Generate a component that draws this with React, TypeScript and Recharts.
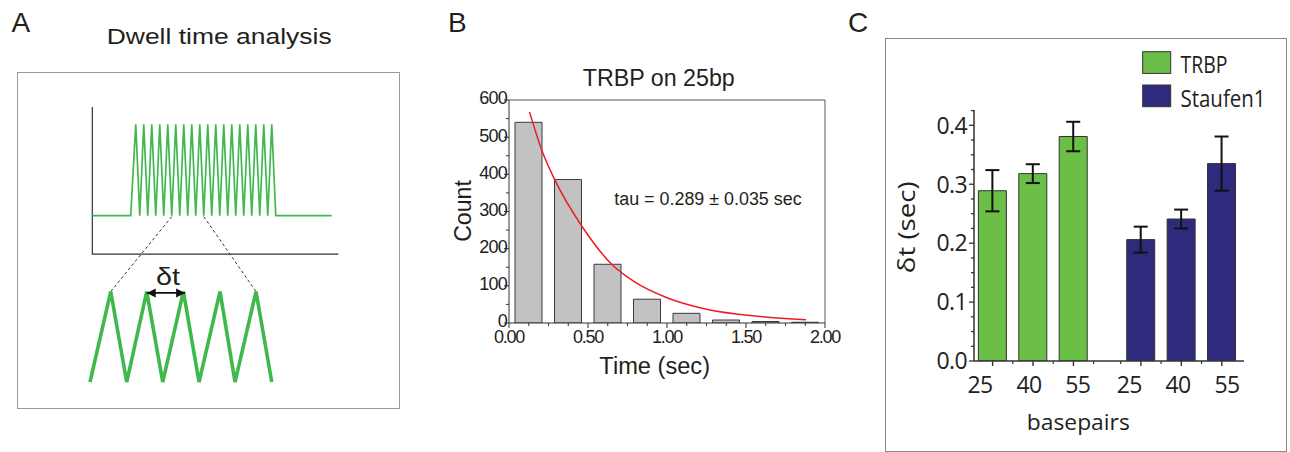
import { LineChart, Line, XAxis, YAxis, ComposedChart, Bar, BarChart, ErrorBar, Cell, ReferenceLine } from 'recharts'

// ---------- panel A: schematic trace (time in blink periods, level 0 = dark, 1 = bright)
const traceTimes = [
  0, 4.8, 5.43, 5.93, 6.43, 6.93, 7.43, 7.93, 8.43, 8.93, 9.43, 9.93, 10.43, 10.93, 11.43, 11.93, 12.43, 12.93,
  13.43, 13.93, 14.43, 14.93, 15.43, 15.93, 16.43, 16.93, 17.43, 17.93, 18.43, 18.93, 19.43, 19.93, 20.43, 20.93,
  21.43, 21.93, 22.43, 22.93, 29.93,
]
const traceLevels = [
  0, 0, 1, 0, 1, 0, 1, 0, 1, 0, 1, 0, 1, 0, 1, 0, 1, 0, 1, 0, 1, 0, 1, 0, 1, 0, 1, 0, 1, 0, 1, 0, 1, 0, 1, 0, 1, 0, 0,
]
const zoomTimes = [-0.29, 2.3, 4.3, 6.8, 8.8, 11.38, 13.34, 15.96, 17.84, 20.46, 22.43]
const zoomLevels = [-1.82, -0.83, -1.82, -0.83, -1.82, -0.83, -1.82, -0.83, -1.82, -0.83, -1.82]
const frameTimes = [0, 0, 30.75]
const frameLevels = [1.19, -0.42, -0.42]
const guideLeftTimes = [9.93, 2.3]
const guideRightTimes = [13.93, 20.46]
const guideLevels = [-0.01, -0.83]
const arrowTimes = [6.8, 11.6]
const arrowLevels = [-0.845, -0.845]

// ---------- panel B: dwell histogram
const binCenters = [0.125, 0.375, 0.625, 0.875, 1.125, 1.375, 1.625, 1.875]
const counts = [540, 386, 158, 64, 26, 8, 4, 2]
const fitTimes = [0.13, 0.21, 0.29, 0.47, 0.65, 0.79, 1.0, 1.25, 1.57, 1.88]
const fitCounts = [568, 462, 385, 255, 158, 112, 68, 37, 18, 9]
const xTicksB = [0, 0.125, 0.25, 0.375, 0.5, 0.625, 0.75, 0.875, 1, 1.125, 1.25, 1.375, 1.5, 1.625, 1.75, 1.875, 2]
const xLabelTicksB = [0, 0.5, 1, 1.5, 2]
const xLabelsB = ['0.00', '0.50', '1.00', '1.50', '2.00']
const yTicksB = [0, 50, 100, 150, 200, 250, 300, 350, 400, 450, 500, 550, 600]
const yLabelTicksB = [0, 100, 200, 300, 400, 500, 600]

// ---------- panel C: mean dwell per construct
const groups = ['TRBP', 'Staufen1']
const groupColors = ['#6bbf46', '#2e2b7d']
const barGroup = [0, 0, 0, 1, 1, 1]
const bpLabels = ['25', '40', '55', '25', '40', '55']
const dwell = [0.289, 0.318, 0.381, 0.206, 0.241, 0.335]
const dwellErr = [0.035, 0.016, 0.025, 0.022, 0.016, 0.046]
const barSlots = [0.46, 1.46, 2.46, 4.13, 5.13, 6.13]
const minorSlots = [0.96, 1.96, 2.96, 3.63, 4.63, 5.63]
const labelSlots = [0.15, 1.36, 2.57, 3.84, 5.05, 6.26]
const yTicksC = [0, 0.025, 0.05, 0.075, 0.1, 0.125, 0.15, 0.175, 0.2, 0.225, 0.25, 0.275, 0.3, 0.325, 0.35, 0.375, 0.4, 0.425]
const yLabelTicksC = [0, 0.1, 0.2, 0.3, 0.4]
const yLabelsC = ['0.0', '0.1', '0.2', '0.3', '0.4']

const arial = '"Liberation Sans", Arial, sans-serif'
const myriad = '"Open Sans", "Noto Sans", sans-serif'
const green = '#3fb84c'

const zip = (xs: number[], ys: number[]) => xs.map((x, i) => ({ x, y: ys[i] }))
const near = (list: number[], v: number) => list.findIndex((s) => Math.abs(s - v) < 1e-6)

const trace = zip(traceTimes, traceLevels)
const zoomed = zip(zoomTimes, zoomLevels)
const frame = zip(frameTimes, frameLevels)
const guideLeft = zip(guideLeftTimes, guideLevels)
const guideRight = zip(guideRightTimes, guideLevels)
const arrow = zip(arrowTimes, arrowLevels)

const bins = binCenters.map((t, i) => ({ t, count: counts[i] }))
const fit = fitTimes.map((t, i) => ({ t, fit: fitCounts[i] }))
const cData = barSlots.map((slot, i) => ({ slot, dt: dwell[i], err: dwellErr[i], group: barGroup[i] }))
const xTicksC = [...barSlots, ...minorSlots, ...labelSlots]

const ArrowHead = (p: any) => {
  const { cx, cy, index } = p
  if (cx == null || cy == null) return <g key={index} />
  const d = index === 0 ? -1 : 1
  return (
    <path
      key={index}
      d={`M${cx},${cy} L${cx - d * 9},${cy - 4.5} L${cx - d * 9},${cy + 4.5} Z`}
      fill="#111"
    />
  )
}

const BTickX = (p: any) => {
  const { x, y, payload } = p
  const li = near(xLabelTicksB, payload.value)
  return (
    <g>
      <line x1={x} x2={x} y1={y} y2={y + (li >= 0 ? 5 : 3)} stroke="#333" />
      {li >= 0 && (
        <text x={x} y={y + 20} textAnchor="middle" fontFamily={arial} fontSize={18} letterSpacing={-1.2} fill="#222">
          {xLabelsB[li]}
        </text>
      )}
    </g>
  )
}

const BTickY = (p: any) => {
  const { x, y, payload } = p
  const major = near(yLabelTicksB, payload.value) >= 0
  return (
    <g>
      <line x1={x - (major ? 5 : 3)} x2={x} y1={y} y2={y} stroke="#333" />
      {major && (
        <text x={x - 2} y={y - 1} dy="0.3em" textAnchor="end" fontFamily={arial} fontSize={18} letterSpacing={-0.8} fill="#222">
          {String(payload.value)}
        </text>
      )}
    </g>
  )
}

const CTickX = (p: any) => {
  const { x, y, payload } = p
  const v = payload.value
  const bi = near(barSlots, v)
  const mi = near(minorSlots, v)
  const li = near(labelSlots, v)
  return (
    <g>
      {bi >= 0 && <line x1={x} x2={x} y1={y} y2={y + 5} stroke="#333" strokeWidth={1.4} />}
      {mi >= 0 && <line x1={x} x2={x} y1={y} y2={y + 3} stroke="#333" strokeWidth={1.2} />}
      {li >= 0 && (
        <text x={x} y={y + 32} textAnchor="middle" fontFamily={myriad} fontSize={23} letterSpacing={-0.6} fill="#222">
          {bpLabels[li]}
        </text>
      )}
    </g>
  )
}

const CTickY = (p: any) => {
  const { x, y, payload } = p
  const li = near(yLabelTicksC, payload.value)
  return (
    <g>
      <line x1={x - (li >= 0 ? 5 : 3)} x2={x} y1={y} y2={y} stroke="#333" strokeWidth={1.3} />
      {li >= 0 && (
        <text x={x - 7} y={y} dy="0.36em" textAnchor="end" fontFamily={myriad} fontSize={23} letterSpacing={-0.6} fill="#222">
          {yLabelsC[li]}
        </text>
      )}
    </g>
  )
}

const abs = (left: number, top: number, extra: any = {}) => ({ position: 'absolute' as const, left, top, ...extra })

export default function App() {
  return (
    <div style={{ position: 'relative', width: 1290, height: 452, background: '#fff', overflow: 'hidden' }}>
      <style>{'body{margin:0}'}</style>

      {/* A */}
      <div style={abs(17, 72, { width: 383, height: 337, border: '1px solid #9a9a9a', boxSizing: 'border-box' })} />
      <div style={abs(18, 72)}>
        <LineChart width={382} height={336} margin={{ top: 0, right: 0, bottom: 0, left: 0 }}>
          <XAxis type="number" dataKey="x" domain={[-9.29, 38.46]} hide allowDataOverflow />
          <YAxis type="number" domain={[-2.104, 1.572]} hide allowDataOverflow />
          <Line data={frame} dataKey="y" type="linear" stroke="#333" strokeWidth={1.2} dot={false} activeDot={false} isAnimationActive={false} />
          <Line data={guideLeft} dataKey="y" type="linear" stroke="#333" strokeWidth={1} strokeDasharray="3 2.5" dot={false} activeDot={false} isAnimationActive={false} />
          <Line data={guideRight} dataKey="y" type="linear" stroke="#333" strokeWidth={1} strokeDasharray="3 2.5" dot={false} activeDot={false} isAnimationActive={false} />
          <Line data={trace} dataKey="y" type="linear" stroke={green} strokeWidth={1.7} strokeLinejoin="miter" dot={false} activeDot={false} isAnimationActive={false} />
          <Line data={zoomed} dataKey="y" type="linear" stroke={green} strokeWidth={3.6} strokeLinejoin="miter" dot={false} activeDot={false} isAnimationActive={false} />
          <Line data={arrow} dataKey="y" type="linear" stroke="#111" strokeWidth={1.6} dot={ArrowHead} activeDot={false} isAnimationActive={false} />
        </LineChart>
      </div>

      {/* B */}
      <div style={abs(440, 60)}>
        <ComposedChart width={420} height={330} data={bins} margin={{ top: 40, right: 35, bottom: 0, left: 0 }}>
          <XAxis
            xAxisId="bins"
            type="number"
            dataKey="t"
            domain={[0, 2]}
            ticks={xTicksB}
            interval={0}
            tickSize={0}
            tickMargin={0}
            tickLine={false}
            axisLine={{ stroke: '#333' }}
            tick={BTickX}
            height={67}
            allowDataOverflow
          />
          <XAxis xAxisId="fit" type="number" dataKey="t" domain={[0, 2]} hide allowDataOverflow />
          <YAxis
            type="number"
            domain={[0, 600]}
            ticks={yTicksB}
            interval={0}
            tickSize={0}
            tickMargin={0}
            tickLine={false}
            axisLine={{ stroke: '#333' }}
            tick={BTickY}
            width={69}
            allowDataOverflow
          />
          <ReferenceLine xAxisId="bins" y={600} stroke="#555" />
          <ReferenceLine xAxisId="bins" x={2} stroke="#555" />
          <Bar xAxisId="bins" dataKey="count" barSize={27} fill="#c2c2c2" stroke="#3a3a3a" strokeWidth={1} isAnimationActive={false} />
          <Line xAxisId="fit" data={fit} dataKey="fit" type="monotone" stroke="#ec1c24" strokeWidth={1.5} dot={false} activeDot={false} isAnimationActive={false} />
        </ComposedChart>
      </div>

      {/* C */}
      <div style={abs(885, 38, { width: 402, height: 414, border: '1px solid #8a8a8a', boxSizing: 'border-box' })} />
      <div style={abs(885, 38)}>
        <BarChart width={402} height={414} data={cData} margin={{ top: 72, right: 43, bottom: 0, left: 0 }}>
          <XAxis
            type="number"
            dataKey="slot"
            domain={[0, 6.68]}
            ticks={xTicksC}
            interval={0}
            tickSize={0}
            tickMargin={0}
            tickLine={false}
            axisLine={{ stroke: '#333', strokeWidth: 1.5 }}
            tick={CTickX}
            height={91}
            allowDataOverflow
          />
          <YAxis
            type="number"
            domain={[0, 0.426]}
            ticks={yTicksC}
            interval={0}
            tickSize={0}
            tickMargin={0}
            tickLine={false}
            axisLine={{ stroke: '#333', strokeWidth: 1.5 }}
            tick={CTickY}
            width={89}
            allowDataOverflow
          />
          <Bar dataKey="dt" barSize={28} stroke="#333" strokeWidth={1} isAnimationActive={false}>
            {cData.map((d, i) => (
              <Cell key={i} fill={groupColors[d.group]} />
            ))}
            <ErrorBar dataKey="err" width={7} strokeWidth={2} stroke="#111" />
          </Bar>
        </BarChart>
      </div>

      {/* text layer */}
      <svg width={1290} height={452} style={abs(0, 0, { pointerEvents: 'none' })}>
        <g fontFamily={arial} fill="#231f20">
          <text x={11.5} y={31.7} fontSize={28}>A</text>
          <text x={448} y={31.7} fontSize={28}>B</text>
          <text x={848} y={31.7} fontSize={28}>C</text>
          <text x={219.2} y={43.7} fontSize={22} textAnchor="middle" textLength={225} lengthAdjust="spacingAndGlyphs">
            Dwell time analysis
          </text>
          <text x={168} y={285} fontSize={24} textAnchor="middle" textLength={24} lengthAdjust="spacingAndGlyphs">
            δt
          </text>
          <text x={658.8} y={85.8} fontSize={23} textAnchor="middle" textLength={152} lengthAdjust="spacingAndGlyphs">
            TRBP on 25bp
          </text>
          <text x={471} y={211} fontSize={23} textAnchor="middle" transform="rotate(-90 471 211)" textLength={61.7} lengthAdjust="spacingAndGlyphs">
            Count
          </text>
          <text x={654.7} y={373.5} fontSize={23} textAnchor="middle" textLength={110.7} lengthAdjust="spacingAndGlyphs">
            Time (sec)
          </text>
          <text x={614.3} y={205} fontSize={18} textLength={187.3} lengthAdjust="spacingAndGlyphs">
            tau = 0.289 ± 0.035 sec
          </text>
        </g>
        <g fontFamily={myriad} fill="#231f20">
          <text x={915} y={227.3} fontSize={24} textAnchor="middle" transform="rotate(-90 915 227.3)" textLength={91.7} lengthAdjust="spacingAndGlyphs">
            δt (sec)
          </text>
          <text x={1078.3} y={430} fontSize={22} textAnchor="middle" textLength={103} lengthAdjust="spacingAndGlyphs">
            basepairs
          </text>
          {groups.map((g, i) => (
            <g key={g}>
              <rect x={1142.7} y={51.7 + i * 33.3} width={28} height={21.7} fill={groupColors[i]} stroke="#333" strokeWidth={1} />
              <text x={1180.5} y={73.3 + i * 33.4} fontSize={23} textLength={i === 0 ? 47 : 85} lengthAdjust="spacingAndGlyphs">
                {g}
              </text>
            </g>
          ))}
        </g>
      </svg>
    </div>
  )
}
